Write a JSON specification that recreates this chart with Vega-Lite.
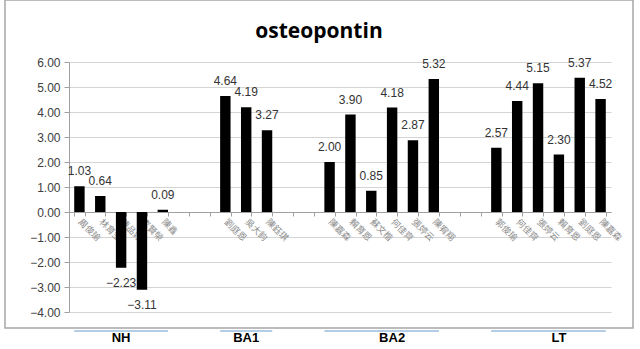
{
  "$schema": "https://vega.github.io/schema/vega-lite/v6.json",
  "width": 628,
  "height": 328,
  "autosize": "none",
  "padding": {"left": 5, "top": 0, "right": 7, "bottom": 21},
  "background": "white",
  "title": {"text": "osteopontin", "font": "Open Sans", "fontSize": 21, "fontWeight": "bold", "color": "#000000", "anchor": "middle", "offset": -42},
  "config": {
    "view": {"stroke": "#a6a6a6", "strokeWidth": 1.5},
    "axis": {"labelFont": "Liberation Sans", "titleFont": "Liberation Sans"}
  },
  "datasets": {
    "bars": [
      {"cat": "周俊瑜", "grp": "NH", "v": 1.03},
      {"cat": "林育生", "grp": "NH", "v": 0.64},
      {"cat": "陳品妤", "grp": "NH", "v": -2.23},
      {"cat": "李賢榮", "grp": "NH", "v": -3.11},
      {"cat": "陳鑫", "grp": "NH", "v": 0.09},
      {"cat": "劉庭恩", "grp": "BA1", "v": 4.64},
      {"cat": "吳大鈞", "grp": "BA1", "v": 4.19},
      {"cat": "陳鈺琪", "grp": "BA1", "v": 3.27},
      {"cat": "陳嘉森", "grp": "BA2", "v": 2.00},
      {"cat": "賴育恩", "grp": "BA2", "v": 3.90},
      {"cat": "蘇文楷", "grp": "BA2", "v": 0.85},
      {"cat": "何佳齊", "grp": "BA2", "v": 4.18},
      {"cat": "張婷云", "grp": "BA2", "v": 2.87},
      {"cat": "陳宥翔", "grp": "BA2", "v": 5.32},
      {"cat": "郭俊瑜", "grp": "LT", "v": 2.57},
      {"cat": "何佳齊 ", "grp": "LT", "v": 4.44},
      {"cat": "張婷云 ", "grp": "LT", "v": 5.15},
      {"cat": "賴育恩 ", "grp": "LT", "v": 2.30},
      {"cat": "劉庭恩 ", "grp": "LT", "v": 5.37},
      {"cat": "陳嘉森 ", "grp": "LT", "v": 4.52}
    ],
    "groups": [
      {"grp": "NH", "start": "周俊瑜", "end": "陳鑫", "cat": "陳品妤"},
      {"grp": "BA1", "start": "劉庭恩", "end": "陳鈺琪", "cat": "吳大鈞"},
      {"grp": "BA2", "start": "陳嘉森", "end": "陳宥翔", "cat": "何佳齊"},
      {"grp": "LT", "start": "郭俊瑜", "end": "陳嘉森 ", "cat": "賴育恩 "}
    ]
  },
  "layer": [
    {
      "data": {"name": "bars"},
      "mark": {"type": "bar", "color": "#000000"},
      "encoding": {
        "x": {
          "field": "cat", "type": "nominal",
          "scale": {
            "domain": ["周俊瑜","林育生","陳品妤","李賢榮","陳鑫"," ","  ","劉庭恩","吳大鈞","陳鈺琪","   ","    ","陳嘉森","賴育恩","蘇文楷","何佳齊","張婷云","陳宥翔","     ","      ","郭俊瑜","何佳齊 ","張婷云 ","賴育恩 ","劉庭恩 ","陳嘉森 "],
            "range": [64, 606], "paddingInner": 0.5, "paddingOuter": 0.25
          },
          "axis": {
            "orient": "bottom", "offset": -116, "title": null, "grid": false,
            "labelAngle": 45, "labelAlign": "left", "labelBaseline": "middle",
            "labelFont": "Noto Sans CJK TC", "labelFontSize": 9, "labelColor": "#8c8c8c",
            "labelPadding": 4, "tickSize": 4, "tickColor": "#a0a0a0", "tickBand": "extent",
            "domainColor": "#a0a0a0", "labelOverlap": false
          }
        },
        "y": {
          "field": "v", "type": "quantitative",
          "scale": {"domain": [-4, 6], "range": [312, 62], "nice": false, "zero": false},
          "axis": {
            "title": null, "offset": -64, "values": [-4,-3,-2,-1,0,1,2,3,4,5,6], "tickCount": 11, "format": ".2f",
            "labelOverlap": false,
            "grid": true, "gridColor": "#d4d4d4", "domainColor": "#a0a0a0", "tickColor": "#a0a0a0",
            "tickSize": 5, "labelFontSize": 12, "labelColor": "#404040", "labelPadding": 4
          }
        }
      }
    },
    {
      "data": {"name": "bars"},
      "transform": [{"filter": "datum.v >= 0"}],
      "mark": {"type": "text", "baseline": "bottom", "dy": -8, "font": "Liberation Sans", "fontSize": 12, "color": "#333333"},
      "encoding": {
        "x": {"field": "cat", "type": "nominal"},
        "y": {"field": "v", "type": "quantitative"},
        "text": {"field": "v", "type": "quantitative", "format": ".2f"}
      }
    },
    {
      "data": {"name": "bars"},
      "transform": [{"filter": "datum.v < 0"}],
      "mark": {"type": "text", "baseline": "top", "dy": 10, "font": "Liberation Sans", "fontSize": 12, "color": "#333333"},
      "encoding": {
        "x": {"field": "cat", "type": "nominal"},
        "y": {"field": "v", "type": "quantitative"},
        "text": {"field": "v", "type": "quantitative", "format": ".2f"}
      }
    },
    {
      "data": {"name": "groups"},
      "mark": {"type": "rule", "color": "#b4cde6", "strokeWidth": 2},
      "encoding": {
        "x": {"field": "start", "type": "nominal", "bandPosition": 0},
        "x2": {"field": "end", "bandPosition": 1},
        "y": {"datum": -4.76}
      }
    },
    {
      "data": {"name": "groups"},
      "mark": {"type": "text", "baseline": "middle", "font": "Liberation Sans", "fontSize": 13, "fontWeight": "bold", "color": "#000000"},
      "encoding": {
        "x": {"field": "cat", "type": "nominal"},
        "y": {"datum": -5.05},
        "text": {"field": "grp"}
      }
    }
  ]
}
